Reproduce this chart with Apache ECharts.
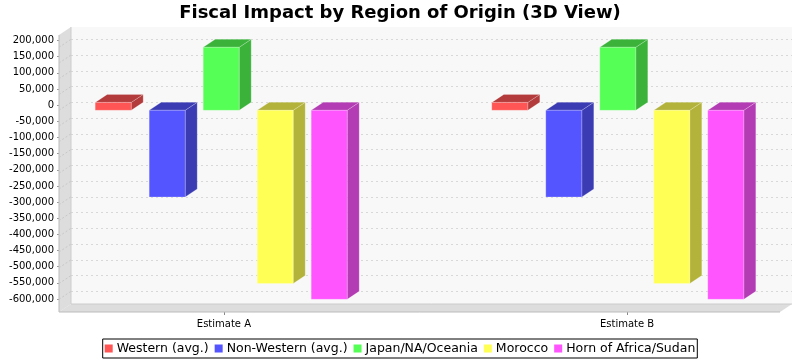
<!DOCTYPE html>
<html><head><meta charset="utf-8">
<style>html,body{margin:0;padding:0;background:#fff}#c{width:800px;height:360px}</style>
<script src="https://cdn.jsdelivr.net/npm/echarts@6/dist/echarts.min.js"></script>
</head><body><div id="c"></div>
<script>
const categories = ['Estimate A', 'Estimate B'];
const seriesNames = ['Western (avg.)', 'Non-Western (avg.)', 'Japan/NA/Oceania', 'Morocco', 'Horn of Africa/Sudan'];
const western = [25000, 25000];
const nonWestern = [-275000, -275000];
const japan = [200000, 200000];
const morocco = [-550000, -550000];
const horn = [-600000, -600000];
const colors = ['#FF5555', '#5555FF', '#55FF55', '#FFFF55', '#FF55FF'];
const sideColors = ['#B33B3B', '#3B3BB3', '#3BB33B', '#B3B33B', '#B33BB3'];
const yTicks = [200000,150000,100000,50000,0,-50000,-100000,-150000,-200000,-250000,-300000,-350000,-400000,-450000,-500000,-550000,-600000];
const allValues = [western, nonWestern, japan, morocco, horn];

const DX = 12, DY = 8, BAR_W = 36, BAR_STEP = 54;
const yMin = -640300, yMax = 239000, xMin = -0.409, xMax = 1.409;

function poly(points, fill, stroke) {
  return {type: 'polygon', shape: {points}, style: {fill, stroke: stroke || null, lineWidth: 1}};
}
function makeSeries(idx) {
  return {
    name: seriesNames[idx],
    type: 'custom',
    coordinateSystem: 'cartesian2d',
    xAxisIndex: 0, yAxisIndex: 0,
    itemStyle: {color: colors[idx]},
    clip: false,
    z: 5,
    data: allValues[idx].map((v, i) => [i, v]),
    encode: {x: 0, y: 1},
    renderItem(params, api) {
      const c0 = api.coord([api.value(0), 0]);
      const c1 = api.coord([api.value(0), api.value(1)]);
      const cx = c0[0] - DX + (idx - 2) * BAR_STEP;
      const x0 = cx - BAR_W / 2, x1 = cx + BAR_W / 2;
      const yBase = c0[1] + DY, yVal = c1[1] + DY;
      const top = Math.min(yBase, yVal), bot = Math.max(yBase, yVal);
      const edge = 'rgba(255,255,255,0.2)';
      return {type: 'group', children: [
        poly([[x1, top], [x1 + DX, top - DY], [x1 + DX, bot - DY], [x1, bot]], sideColors[idx], edge),
        poly([[x0, top], [x0 + DX, top - DY], [x1 + DX, top - DY], [x1, top]], sideColors[idx], edge),
        poly([[x0, top], [x1, top], [x1, bot], [x0, bot]], colors[idx], edge)
      ]};
    }
  };
}
const wallSeries = {
  type: 'custom', coordinateSystem: 'cartesian2d', xAxisIndex: 0, yAxisIndex: 0,
  silent: true, clip: false, z: 1, legendHoverLink: false,
  data: [[xMin, yMin, xMax, yMax]],
  renderItem(params, api) {
    const a = api.coord([xMin, yMin]), b = api.coord([xMax, yMax]);
    const kids = [
      poly([[a[0]-DX, b[1]+DY],[a[0], b[1]],[a[0], a[1]],[a[0]-DX, a[1]+DY]], '#DDDDDD'),
      poly([[a[0]-DX, a[1]+DY],[a[0], a[1]],[b[0], a[1]],[b[0]-DX, a[1]+DY]], '#DDDDDD'),
      {type:'polyline', shape:{points:[[a[0]-DX, b[1]+DY],[a[0]-DX, a[1]+DY],[b[0]-DX, a[1]+DY]]}, style:{stroke:'#BBBBBB', lineWidth:1, fill:null}},
      {type:'polyline', shape:{points:[[a[0], b[1]],[a[0], a[1]],[b[0], a[1]]]}, style:{stroke:'#CCCCCC', lineWidth:1, fill:null}}
    ];
    yTicks.forEach(t => {
      const p = api.coord([xMin, t]);
      kids.push({type:'line', shape:{x1:p[0]-DX,y1:p[1]+DY,x2:p[0],y2:p[1]}, style:{stroke:'#C8C8C8', lineWidth:1, lineDash:[2,2]}});
    });
    return {type:'group', children:kids};
  }
};

const chart = echarts.init(document.getElementById('c'), null, {renderer:'canvas'});
chart.setOption({
  animation: false,
  backgroundColor: '#fff',
  textStyle: {fontFamily: 'DejaVu Sans'},
  title: {text: 'Fiscal Impact by Region of Origin (3D View)', left: 'center', top: -1,
    textStyle: {fontFamily:'DejaVu Sans', fontSize: 18, fontWeight: 'bold', color: '#000'}},
  legend: {
    bottom: 2, left: 'center', itemWidth: 8, itemHeight: 8, itemGap: 6,
    icon: 'rect', borderColor: '#000', borderWidth: 1, borderRadius: 0, padding: [3, 2],
    data: seriesNames,
    textStyle: {fontFamily:'DejaVu Sans', fontSize: 12.5, color:'#000', padding:[0,0,0,-1]}
  },
  grid: [
    {left: 71, top: 27, width: 721, height: 277, show: true, backgroundColor: '#F8F8F8', borderWidth: 0},
    {left: 59, top: 28, width: 733, height: 284, show: false}
  ],
  xAxis: [
    {gridIndex: 0, type: 'value', min: xMin, max: xMax, show: false},
    {gridIndex: 1, type: 'value', min: xMin, max: xMax, splitLine: {show:false},
      axisLine: {show:false, onZero:false},
      axisTick: {show:true, customValues:[0,1], length:3, lineStyle:{color:'#888'}},
      axisLabel: {customValues:[0,1], formatter: v => categories[v], fontSize:10, color:'#000', margin:7, fontFamily:'DejaVu Sans'}}
  ],
  yAxis: [
    {gridIndex: 0, type: 'value', min: yMin, max: yMax,
      axisLine:{show:false, onZero:false}, axisTick:{show:false, customValues: yTicks}, axisLabel:{show:false, customValues: yTicks},
      splitLine:{show:true, lineStyle:{type:[2,3], color:'#D8D8D8', width:1}}},
    {gridIndex: 1, type: 'value', min: yMin, max: yMax,
      axisLine:{show:false, onZero:false}, splitLine:{show:false},
      axisTick:{show:true, customValues: yTicks, length:2, lineStyle:{color:'#999'}},
      axisLabel:{customValues: yTicks, formatter: v => v.toLocaleString('en-US'), fontSize:10, color:'#000', margin:5, fontFamily:'DejaVu Sans'}}
  ],
  series: [wallSeries].concat(allValues.map((_, i) => makeSeries(i)))
});
</script></body></html>
